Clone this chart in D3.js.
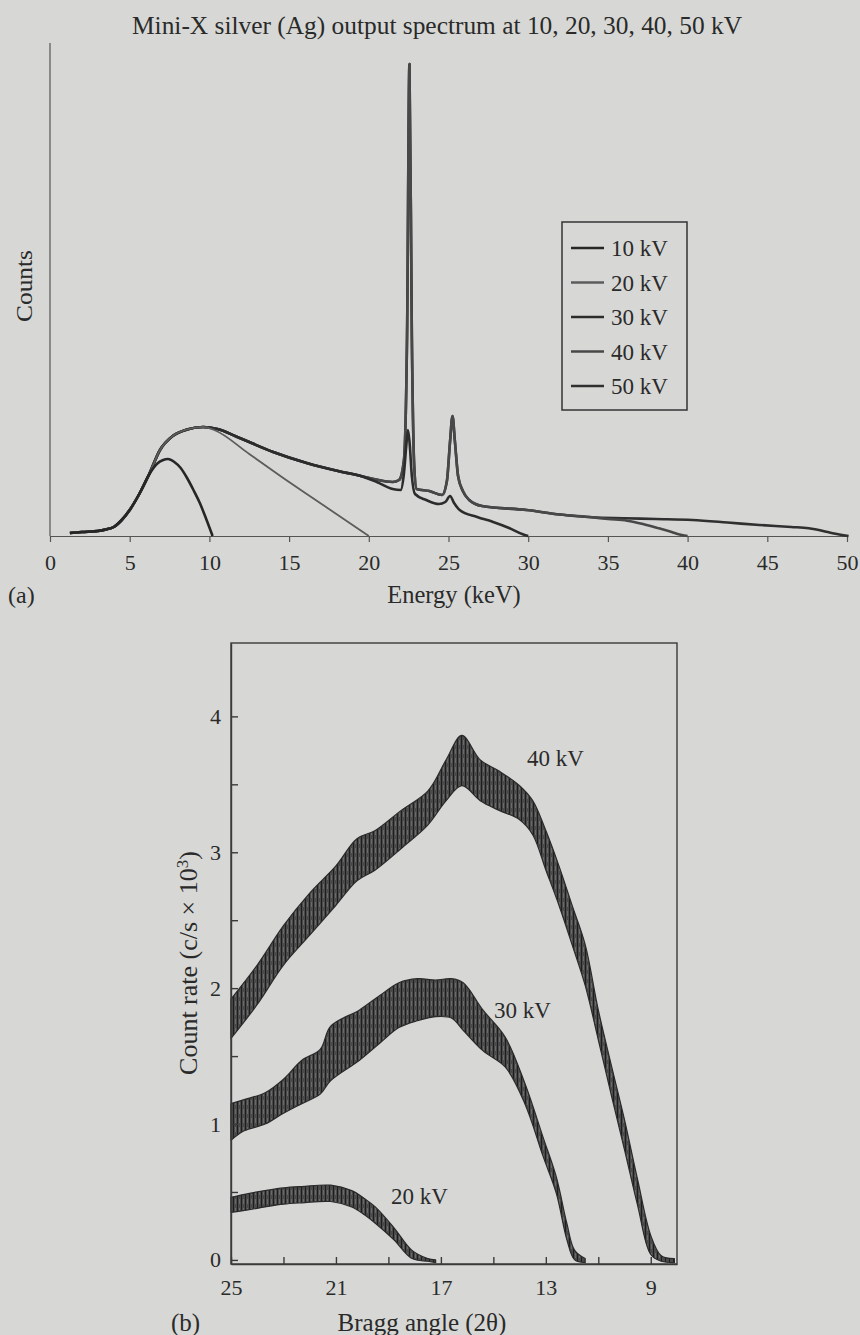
<!DOCTYPE html>
<html>
<head>
<meta charset="utf-8">
<script src="https://cdn.jsdelivr.net/npm/d3@7"></script>
<style>
  body { margin: 0; background: #d7d8d5; }
  svg text { font-family: "Liberation Serif", "DejaVu Serif", serif; fill: #2a2a2a; }
</style>
</head>
<body>
<svg id="fig" width="860" height="1335"></svg>
<script>
// ---- (a) Mini-X spectrum, energy in keV, counts in arbitrary units ----
var riseE = [1.25, 2, 3, 3.5, 4, 4.5, 5, 5.6, 6.2];
var riseC = [3, 4, 5, 6.5, 9, 16, 26, 42, 61];

var e10 = [6.7, 7.1, 7.4, 7.8, 8.2, 8.6, 9.0, 9.4, 9.8, 10.2];
var c10 = [72, 76, 77, 74, 68, 58, 46, 33, 17, 0];

var peakE = [6.9, 7.7, 8.6, 9.6];
var peakC = [86, 100, 106.5, 109];

var e20 = [10.3, 12.5, 15, 17.5, 20.0];
var c20 = [106, 82, 54, 27, 0];

var bodyE = [10.5, 11.9, 14, 16.1, 18.2, 19.5];
var bodyC = [107, 98, 84, 73, 64.5, 60];

var e30 = [20.5, 21.5, 22.0, 22.2, 22.35, 22.45, 22.55, 22.7, 22.9, 23.6, 24.4, 24.8, 25.1, 25.35, 25.7, 26.8, 27.8, 28.8, 29.7, 30];
var c30 = [54, 47, 46, 62, 90, 106, 95, 60, 42, 36, 32, 34, 40, 33, 26, 19, 14, 8, 1.5, 0];

var eHigh = [20.3, 21.5, 21.9, 22.2, 22.4, 22.55, 22.7, 22.85, 23.0, 23.8, 24.6, 24.9, 25.1, 25.25, 25.4, 25.6, 25.9, 26.3, 27.1, 29.9, 32, 34];
var cHigh = [57, 54, 56, 75, 200, 472, 200, 70, 47, 45, 41, 55, 95, 120, 95, 60, 45, 36, 30, 26, 21.5, 18.7];

var e40 = [35, 36.2, 37.2, 38.2, 39, 39.5, 40];
var c40 = [17, 15.3, 12, 7.7, 4, 1.5, 0];

var e50 = [36, 38, 40.3, 42.5, 44.5, 46.5, 47.6, 48.5, 49.1, 50.1];
var c50 = [17.8, 17, 16, 13.5, 11, 9, 7.7, 5, 2.7, 0];

var spectrumLabels = ["10 kV", "20 kV", "30 kV", "40 kV", "50 kV"];
var spectrumColors = ["#262626", "#5c5c5c", "#2c2c2c", "#484848", "#303030"];
var energyTicks = [0, 5, 10, 15, 20, 25, 30, 35, 40, 45, 50];

// ---- (b) count rate vs Bragg angle, band low / high edges (c/s x 10^3) ----
var a40 = [25, 24, 23, 22, 21, 20.2, 19.5, 18.5, 17.5, 16.8, 16.2, 15.5, 14.8, 14, 13.5, 13, 12.5, 12, 11.5, 11, 10.5, 10, 9.5, 9, 8.6, 8.1];
var lo40 = [1.63, 1.88, 2.17, 2.39, 2.61, 2.79, 2.87, 3.03, 3.20, 3.38, 3.49, 3.38, 3.31, 3.24, 3.13, 2.87, 2.61, 2.32, 2.02, 1.62, 1.21, 0.81, 0.40, 0.04, -0.01, -0.02];
var hi40 = [1.92, 2.17, 2.46, 2.70, 2.90, 3.10, 3.16, 3.31, 3.45, 3.68, 3.86, 3.68, 3.60, 3.49, 3.38, 3.16, 2.90, 2.61, 2.32, 1.84, 1.43, 1.03, 0.59, 0.18, 0.03, 0.01];

var a30 = [25, 24.5, 23.7, 23, 22.3, 21.6, 21.2, 20.1, 19.3, 18.6, 17.9, 17.2, 16.6, 16.15, 15.4, 14.55, 13.8, 13.1, 12.6, 12.2, 11.9, 11.5];
var lo30 = [0.88, 0.95, 1.0, 1.08, 1.15, 1.22, 1.32, 1.47, 1.60, 1.71, 1.76, 1.79, 1.78, 1.69, 1.54, 1.42, 1.15, 0.76, 0.49, 0.15, 0.0, -0.02];
var hi30 = [1.15, 1.18, 1.23, 1.33, 1.47, 1.55, 1.72, 1.84, 1.95, 2.04, 2.07, 2.06, 2.07, 2.04, 1.84, 1.64, 1.30, 0.90, 0.61, 0.27, 0.07, 0.01];

var a20 = [25, 24.3, 23.7, 23, 22.3, 21.2, 20.4, 19.9, 19.5, 18.8, 18.1, 17.5, 17.2];
var lo20 = [0.35, 0.37, 0.39, 0.41, 0.42, 0.43, 0.39, 0.33, 0.27, 0.15, 0.01, -0.01, -0.02];
var hi20 = [0.46, 0.49, 0.51, 0.53, 0.54, 0.55, 0.51, 0.45, 0.39, 0.24, 0.07, 0.01, 0.0];

var bandLabels = ["40 kV", "30 kV", "20 kV"];
var braggTicks = [25, 23, 21, 19, 17, 15, 13, 11, 9];
var braggLabels = [25, 21, 17, 13, 9];
var rateTicks = [0, 0.5, 1, 1.5, 2, 2.5, 3, 3.5, 4];

function zip(xs, ys) {
  return xs.map(function (v, i) { return [v, ys[i]]; });
}
function zipBand(xs, lo, hi) {
  return xs.map(function (v, i) { return { a: v, lo: lo[i], hi: hi[i] }; });
}

var svg = d3.select("#fig");

// ================= chart (a) =================
var xA = d3.scaleLinear().domain([0, 50]).range([50, 847]);
var yA = d3.scaleLinear().domain([0, 493]).range([536, 43]);

var rise = zip(riseE, riseC);
var peak = zip(peakE, peakC);
var body = zip(bodyE, bodyC);
var high = zip(eHigh, cHigh);

var spectra = [
  rise.concat(zip(e10, c10)),
  rise.concat(peak, zip(e20, c20)),
  rise.concat(peak, body, zip(e30, c30)),
  rise.concat(peak, body, high, zip(e40, c40)),
  rise.concat(peak, body, high, zip(e50, c50))
];

svg.append("text")
  .attr("x", 437).attr("y", 34)
  .attr("text-anchor", "middle")
  .attr("textLength", 610)
  .attr("lengthAdjust", "spacingAndGlyphs")
  .style("font-size", "26px")
  .text("Mini-X silver (Ag) output spectrum at 10, 20, 30, 40, 50 kV");

var gA = svg.append("g");

var xAxisA = d3.axisBottom(xA).tickValues(energyTicks).tickSize(6).tickSizeOuter(0).tickPadding(12);
var gxA = gA.append("g").attr("transform", "translate(0," + yA(0) + ")").call(xAxisA);
gxA.selectAll("text").style("font-size", "22px").attr("font-family", null);
gxA.selectAll("line, path").style("stroke", "#555").style("stroke-width", 1.2);

gA.append("line")
  .attr("x1", xA(0)).attr("x2", xA(0))
  .attr("y1", yA(0)).attr("y2", yA(493))
  .style("stroke", "#555").style("stroke-width", 1.2);

var lineA = d3.line()
  .x(function (d) { return xA(d[0]); })
  .y(function (d) { return yA(d[1]); })
  .curve(d3.curveMonotoneX);

// draw 50 kV first so the lower-energy curves sit on top
[4, 3, 2, 1, 0].forEach(function (i) {
  gA.append("path")
    .attr("d", lineA(spectra[i]))
    .style("fill", "none")
    .style("stroke", spectrumColors[i])
    .style("stroke-width", i == 1 ? 1.8 : 2.6)
    .style("stroke-linejoin", "round");
});

gA.append("text")
  .attr("transform", "translate(32,286) rotate(-90)")
  .attr("text-anchor", "middle")
  .attr("textLength", 72)
  .attr("lengthAdjust", "spacingAndGlyphs")
  .style("font-size", "24px")
  .text("Counts");

gA.append("text")
  .attr("x", 454).attr("y", 603)
  .attr("text-anchor", "middle")
  .style("font-size", "24.5px")
  .text("Energy (keV)");

gA.append("text")
  .attr("x", 8).attr("y", 603)
  .style("font-size", "24px")
  .text("(a)");

// legend
var legend = gA.append("g").attr("transform", "translate(562,222)");
legend.append("rect")
  .attr("width", 125).attr("height", 188)
  .style("fill", "none").style("stroke", "#333").style("stroke-width", 1.5);
var rows = legend.selectAll("g.row")
  .data(spectrumLabels)
  .enter()
  .append("g")
  .attr("class", "row")
  .attr("transform", function (d, i) { return "translate(0," + (26 + i * 34.5) + ")"; });
rows.append("line")
  .attr("x1", 9).attr("x2", 42)
  .style("stroke", function (d, i) { return spectrumColors[i]; })
  .style("stroke-width", 2.6);
rows.append("text")
  .attr("x", 49).attr("dy", "0.35em")
  .style("font-size", "23px")
  .text(function (d) { return d; });

// ================= chart (b) =================
var xB = d3.scaleLinear().domain([25, 8]).range([231, 677]);
var yB = d3.scaleLinear().domain([-0.03, 4.54]).range([1264, 643]);

var gB = svg.append("g");

var defs = svg.append("defs");
var pat = defs.append("pattern")
  .attr("id", "noise")
  .attr("patternUnits", "userSpaceOnUse")
  .attr("width", 4).attr("height", 9);
pat.append("rect").attr("width", 4).attr("height", 9).style("fill", "#4a4a4a");
pat.append("rect").attr("x", 1).attr("width", 1).attr("height", 9).style("fill", "#1e1e1e");
pat.append("rect").attr("x", 3).attr("y", 2).attr("width", 1).attr("height", 5).style("fill", "#6a6a6a");

var area = d3.area()
  .x(function (d) { return xB(d.a); })
  .y0(function (d) { return yB(d.lo); })
  .y1(function (d) { return yB(d.hi); })
  .curve(d3.curveCatmullRom.alpha(0.5));

var bands = [zipBand(a40, lo40, hi40), zipBand(a30, lo30, hi30), zipBand(a20, lo20, hi20)];

bands.forEach(function (b) {
  gB.append("path")
    .attr("d", area(b))
    .style("fill", "url(#noise)")
    .style("stroke", "#2a2a2a")
    .style("stroke-width", 1.2)
    .style("stroke-linejoin", "round");
});

gB.append("rect")
  .attr("x", xB(25)).attr("y", yB(4.54))
  .attr("width", xB(8) - xB(25)).attr("height", yB(-0.03) - yB(4.54))
  .style("fill", "none").style("stroke", "#3a3a3a").style("stroke-width", 1.4);

var xAxisB = d3.axisBottom(xB).tickValues(braggTicks).tickSize(-7).tickSizeOuter(0).tickPadding(15)
  .tickFormat(function (d) { return braggLabels.indexOf(d) >= 0 ? d : ""; });
var gxB = gB.append("g").attr("transform", "translate(0," + yB(-0.03) + ")").call(xAxisB);
gxB.selectAll("text").style("font-size", "22px").attr("font-family", null);
gxB.selectAll("line, path").style("stroke", "#3a3a3a").style("stroke-width", 1.4);

var yAxisB = d3.axisLeft(yB).tickValues(rateTicks).tickSize(-7).tickSizeOuter(0).tickPadding(10)
  .tickFormat(function (d) { return d % 1 == 0 ? d : ""; });
var gyB = gB.append("g").attr("transform", "translate(" + xB(25) + ",0)").call(yAxisB);
gyB.selectAll("text").style("font-size", "22px").attr("font-family", null);
gyB.selectAll("line, path").style("stroke", "#3a3a3a").style("stroke-width", 1.4);

var bandLabelPos = [[527, 758], [494, 1010], [391, 1196]];
gB.selectAll("text.band")
  .data(bandLabels)
  .enter()
  .append("text")
  .attr("class", "band")
  .attr("x", function (d, i) { return bandLabelPos[i][0]; })
  .attr("y", function (d, i) { return bandLabelPos[i][1]; })
  .attr("dy", "0.35em")
  .style("font-size", "23px")
  .text(function (d) { return d; });

gB.append("text")
  .attr("transform", "translate(197,963) rotate(-90)")
  .attr("text-anchor", "middle")
  .style("font-size", "26px")
  .html("Count rate (c/s × 10<tspan dy='-9' style='font-size:17px'>3</tspan><tspan dy='9'>)</tspan>");

gB.append("text")
  .attr("x", 422).attr("y", 1331)
  .attr("text-anchor", "middle")
  .style("font-size", "25px")
  .text("Bragg angle (2θ)");

gB.append("text")
  .attr("x", 171).attr("y", 1331)
  .style("font-size", "25px")
  .text("(b)");
</script>
</body>
</html>
